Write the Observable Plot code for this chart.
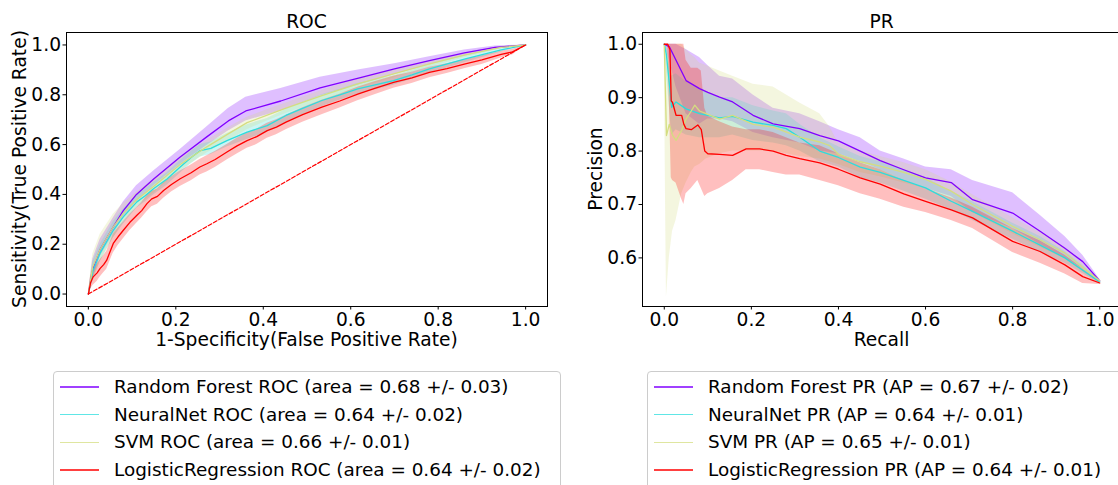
<!DOCTYPE html>
<html>
<head>
<meta charset="utf-8">
<script src="https://cdn.jsdelivr.net/npm/d3@7"></script>
<script src="https://cdn.jsdelivr.net/npm/@observablehq/plot@0.6"></script>
<style>
  html, body { margin: 0; padding: 0; background: #fff; }
  #root { position: relative; width: 1118px; height: 485px; overflow: hidden; background: #fff;
          font-family: "DejaVu Sans", sans-serif; color: #000; }
  .abs { position: absolute; white-space: nowrap; line-height: 1; font-size: 18.67px; }
  .ttl { transform: translateX(-50%); }
  .ylab { transform: translate(-50%, -50%) rotate(-90deg); }
  .legend { position: absolute; border: 1px solid #cccccc; border-radius: 4px; background: rgba(255,255,255,0.8); box-sizing: border-box; }
  .row { position: absolute; left: 0; height: 0; }
  .sw { position: absolute; left: 6px; width: 39px; height: 1.6px; }
  .lt { position: absolute; left: 60px; font-size: 18.4px; line-height: 1; white-space: nowrap; transform: translateY(-50%); }
</style>
</head>
<body>
<div id="root"></div>
<script>
// ---------------- data ----------------
const modelNames = ["Random Forest", "NeuralNet", "SVM", "LogisticRegression"];
const rocAreaText = ["0.68 +/- 0.03", "0.64 +/- 0.02", "0.66 +/- 0.01", "0.64 +/- 0.02"];
const prApText = ["0.67 +/- 0.02", "0.64 +/- 0.01", "0.65 +/- 0.01", "0.64 +/- 0.01"];
const xTicks = [0, 0.2, 0.4, 0.6, 0.8, 1.0];
const rocYTicks = [0, 0.2, 0.4, 0.6, 0.8, 1.0];
const prYTicks = [0.6, 0.7, 0.8, 0.9, 1.0];
const chanceLine = [[0, 0], [1, 1]];

// [fpr, mean tpr, mean - std, mean + std]
const rocRF = [
  [0,0,0,0],[0.01,0.10,0.06,0.14],[0.027,0.18,0.15,0.22],[0.057,0.27,0.24,0.305],
  [0.08,0.335,0.305,0.37],[0.11,0.40,0.37,0.435],[0.15,0.463,0.435,0.495],[0.21,0.55,0.52,0.58],
  [0.27,0.63,0.595,0.67],[0.32,0.695,0.655,0.745],[0.36,0.735,0.695,0.79],[0.44,0.775,0.735,0.825],
  [0.53,0.828,0.795,0.87],[0.62,0.868,0.84,0.90],[0.70,0.904,0.88,0.925],[0.78,0.937,0.92,0.953],
  [0.86,0.968,0.955,0.98],[0.93,0.99,0.982,0.996],[1,1,1,1]];
const rocNN = [
  [0,0,0,0],[0.01,0.09,0.05,0.13],[0.027,0.165,0.13,0.2],[0.057,0.256,0.225,0.29],
  [0.08,0.31,0.28,0.34],[0.111,0.37,0.345,0.398],[0.13,0.395,0.37,0.42],[0.149,0.423,0.398,0.448],
  [0.18,0.462,0.437,0.487],[0.21,0.51,0.485,0.535],[0.235,0.548,0.523,0.572],[0.256,0.576,0.55,0.60],
  [0.28,0.585,0.56,0.61],[0.317,0.616,0.59,0.645],[0.363,0.65,0.62,0.68],[0.409,0.676,0.65,0.705],
  [0.452,0.717,0.69,0.742],[0.49,0.745,0.72,0.77],[0.534,0.777,0.752,0.80],[0.575,0.8,0.778,0.822],
  [0.616,0.824,0.802,0.845],[0.698,0.857,0.838,0.876],[0.74,0.88,0.862,0.898],[0.78,0.904,0.886,0.92],
  [0.862,0.944,0.93,0.957],[0.944,0.98,0.972,0.987],[1,1,1,1]];
const rocSVM = [
  [0,0,0,0],[0.01,0.11,0.06,0.16],[0.027,0.18,0.13,0.24],[0.057,0.27,0.225,0.32],
  [0.08,0.325,0.29,0.365],[0.111,0.38,0.35,0.41],[0.149,0.432,0.405,0.46],[0.21,0.52,0.495,0.548],
  [0.27,0.59,0.565,0.615],[0.317,0.64,0.612,0.665],[0.363,0.688,0.66,0.71],[0.409,0.718,0.695,0.74],
  [0.452,0.746,0.725,0.767],[0.534,0.797,0.777,0.817],[0.616,0.844,0.825,0.862],[0.698,0.884,0.867,0.9],
  [0.78,0.924,0.91,0.937],[0.862,0.96,0.95,0.969],[0.944,0.99,0.985,0.994],[1,1,1,1]];
const rocLR = [
  [0,0,0,0],[0.005,0.045,0.02,0.07],[0.011,0.069,0.035,0.1],[0.02,0.085,0.05,0.12],
  [0.027,0.103,0.068,0.138],[0.035,0.118,0.085,0.155],[0.042,0.136,0.1,0.172],[0.05,0.172,0.135,0.208],
  [0.057,0.203,0.165,0.24],[0.068,0.23,0.195,0.265],[0.08,0.256,0.222,0.29],[0.095,0.288,0.255,0.32],
  [0.111,0.316,0.285,0.348],[0.122,0.335,0.305,0.368],[0.134,0.363,0.33,0.395],[0.145,0.382,0.35,0.412],
  [0.158,0.392,0.36,0.422],[0.172,0.416,0.385,0.447],[0.19,0.44,0.41,0.47],[0.21,0.463,0.432,0.494],
  [0.235,0.487,0.455,0.518],[0.255,0.51,0.478,0.54],[0.271,0.523,0.49,0.555],[0.29,0.54,0.508,0.572],
  [0.317,0.57,0.538,0.6],[0.34,0.595,0.562,0.625],[0.363,0.616,0.585,0.647],[0.385,0.632,0.6,0.662],
  [0.409,0.656,0.625,0.686],[0.43,0.67,0.64,0.7],[0.452,0.69,0.66,0.718],[0.49,0.72,0.69,0.748],
  [0.534,0.75,0.72,0.778],[0.575,0.775,0.747,0.802],[0.616,0.803,0.776,0.83],[0.655,0.826,0.8,0.852],
  [0.698,0.85,0.826,0.874],[0.74,0.868,0.845,0.89],[0.78,0.89,0.868,0.91],[0.82,0.905,0.885,0.925],
  [0.862,0.924,0.905,0.942],[0.9,0.94,0.922,0.957],[0.944,0.962,0.948,0.975],[0.97,0.972,0.96,0.983],
  [1,1,1,1]];

// [recall, mean precision, mean - std, mean + std]
const prRF = [
  [0,1,1,1],[0.012,0.995,0.97,1.0],[0.027,0.97,0.92,1.0],[0.05,0.932,0.87,0.99],
  [0.081,0.917,0.85,0.975],[0.1,0.91,0.86,0.96],[0.127,0.901,0.86,0.94],[0.157,0.892,0.855,0.935],
  [0.204,0.867,0.835,0.905],[0.25,0.851,0.825,0.88],[0.311,0.842,0.815,0.87],[0.357,0.829,0.80,0.855],
  [0.4,0.819,0.795,0.84],[0.45,0.80,0.78,0.825],[0.496,0.782,0.765,0.80],[0.55,0.765,0.745,0.785],
  [0.6,0.75,0.73,0.77],[0.659,0.741,0.715,0.765],[0.708,0.709,0.685,0.745],[0.8,0.684,0.655,0.722],
  [0.863,0.65,0.625,0.68],[0.92,0.618,0.60,0.64],[0.961,0.593,0.58,0.605],[1,0.557,0.555,0.56]];
const prNN = [
  [0,1,1,1],[0.005,0.98,0.95,1],[0.017,0.882,0.83,0.94],[0.027,0.892,0.84,0.945],
  [0.05,0.879,0.83,0.93],[0.081,0.87,0.825,0.915],[0.127,0.862,0.825,0.90],[0.157,0.865,0.83,0.9],
  [0.204,0.854,0.82,0.885],[0.25,0.848,0.815,0.875],[0.28,0.842,0.81,0.87],[0.311,0.826,0.80,0.85],
  [0.357,0.80,0.78,0.825],[0.4,0.788,0.77,0.808],[0.45,0.77,0.75,0.79],[0.496,0.76,0.74,0.78],
  [0.55,0.745,0.725,0.765],[0.6,0.731,0.71,0.75],[0.659,0.706,0.69,0.725],[0.708,0.687,0.67,0.705],
  [0.8,0.65,0.635,0.665],[0.863,0.624,0.61,0.64],[0.92,0.60,0.59,0.612],[1,0.555,0.552,0.56]];
const prSVM = [
  [0,1,1,1],[0.003,0.90,0.7,1],[0.005,0.829,0.527,1],[0.0115,0.85,0.60,1],
  [0.019,0.83,0.65,1],[0.027,0.82,0.67,1],[0.04,0.839,0.72,1],[0.05,0.86,0.74,0.99],
  [0.062,0.875,0.76,0.98],[0.07,0.886,0.77,0.975],[0.081,0.875,0.775,0.965],[0.096,0.87,0.785,0.96],
  [0.127,0.86,0.795,0.95],[0.157,0.867,0.80,0.94],[0.204,0.85,0.80,0.925],[0.25,0.845,0.80,0.92],
  [0.311,0.826,0.79,0.89],[0.357,0.817,0.785,0.87],[0.38,0.81,0.78,0.845],[0.4,0.794,0.775,0.815],
  [0.45,0.78,0.76,0.80],[0.496,0.772,0.752,0.79],[0.55,0.76,0.74,0.778],[0.6,0.747,0.73,0.765],
  [0.659,0.725,0.71,0.742],[0.708,0.70,0.685,0.718],[0.8,0.659,0.645,0.675],[0.863,0.634,0.62,0.648],
  [0.92,0.609,0.598,0.62],[1,0.557,0.553,0.56]];
const prLR = [
  [0,1,1,1],[0.008,1.0,1.0,1.0],[0.013,0.99,0.85,1],[0.016,0.894,0.75,1],
  [0.019,0.891,0.745,1],[0.027,0.867,0.74,1],[0.04,0.867,0.71,1],[0.045,0.85,0.70,1],
  [0.05,0.842,0.72,0.97],[0.062,0.84,0.73,0.955],[0.077,0.849,0.745,0.955],[0.085,0.84,0.73,0.95],
  [0.093,0.80,0.715,0.88],[0.1,0.795,0.72,0.865],[0.127,0.794,0.73,0.855],[0.157,0.792,0.745,0.845],
  [0.188,0.804,0.765,0.84],[0.219,0.804,0.765,0.84],[0.25,0.80,0.76,0.835],[0.28,0.792,0.755,0.825],
  [0.311,0.786,0.755,0.815],[0.357,0.778,0.745,0.81],[0.4,0.766,0.735,0.795],[0.45,0.75,0.72,0.778],
  [0.496,0.738,0.71,0.765],[0.55,0.72,0.695,0.745],[0.6,0.706,0.685,0.73],[0.659,0.69,0.67,0.712],
  [0.708,0.675,0.655,0.695],[0.8,0.631,0.61,0.655],[0.863,0.612,0.59,0.632],[0.92,0.587,0.57,0.605],
  [0.961,0.565,0.552,0.58],[1,0.553,0.55,0.556]];

// ---------------- style ----------------
const colors = ["#8000ff", "#2bdddd", "#d4dd80", "#ff0000"];
const FONT = "DejaVu Sans";
const FS = "18.67px";

const root = document.getElementById("root");

function panel(seriesList, yDomain, yTicks, width, marginRight) {
  const marks = [];
  seriesList.forEach((data, i) => {
    marks.push(Plot.areaY(data, {x: d => d[0], y1: d => d[2], y2: d => d[3], fill: colors[i], fillOpacity: 0.25}));
  });
  seriesList.forEach((data, i) => {
    marks.push(Plot.line(data, {x: d => d[0], y: d => d[1], stroke: colors[i], strokeWidth: 1.3}));
  });
  return {marks, opts: {
    width, height: 340,
    marginLeft: 66, marginRight, marginTop: 32, marginBottom: 34,
    style: {fontFamily: FONT, fontSize: FS, color: "#000", background: "transparent", overflow: "visible"},
    x: {domain: [-0.05, 1.05], ticks: xTicks, tickFormat: d3.format(".1f"), tickSize: 3.5, tickPadding: 2.5, label: null},
    y: {domain: yDomain, ticks: yTicks, tickFormat: d3.format(".1f"), tickSize: 3.5, tickPadding: 2, label: null}
  }};
}

// ROC panel
const roc = panel([rocRF, rocNN, rocSVM, rocLR], [-0.05, 1.05], rocYTicks, 560, 13);
roc.marks.push(Plot.line(chanceLine, {x: d => d[0], y: d => d[1], stroke: "#ff0000", strokeWidth: 1.2, strokeDasharray: "4,2"}));
roc.marks.push(Plot.frame({stroke: "#000", strokeWidth: 1}));
const rocSvg = Plot.plot({...roc.opts, marks: roc.marks});
rocSvg.style.position = "absolute"; rocSvg.style.left = "0px"; rocSvg.style.top = "0px";
root.appendChild(rocSvg);

// PR panel
const pr = panel([prRF, prNN, prSVM, prLR], [0.509, 1.022], prYTicks, 548, 3);
pr.marks.push(Plot.frame({stroke: "#000", strokeWidth: 1}));
const prSvg = Plot.plot({...pr.opts, marks: pr.marks});
prSvg.style.position = "absolute"; prSvg.style.left = "576px"; prSvg.style.top = "0px";
root.appendChild(prSvg);

// ---------------- text ----------------
function addText(txt, cls, left, top) {
  const d = document.createElement("div");
  d.className = "abs " + cls;
  d.textContent = txt;
  d.style.left = left + "px";
  d.style.top = top + "px";
  root.appendChild(d);
}
addText("ROC", "ttl", 306.5, 12.5);
addText("PR", "ttl", 881.5, 12.5);
addText("1-Specificity(False Positive Rate)", "ttl", 306.5, 330.5);
addText("Recall", "ttl", 881.5, 330.5);
addText("Sensitivity(True Positive Rate)", "ylab", 19.5, 169);
addText("Precision", "ylab", 595.5, 169);

// ---------------- legends ----------------
function legend(left, width, labels) {
  const box = document.createElement("div");
  box.className = "legend";
  box.style.left = left + "px";
  box.style.top = "371px";
  box.style.width = width + "px";
  box.style.height = "140px";
  labels.forEach((lab, i) => {
    const row = document.createElement("div");
    row.className = "row";
    row.style.top = (15 + i * 27.7) + "px";
    const sw = document.createElement("div");
    sw.className = "sw";
    sw.style.background = colors[i];
    sw.style.opacity = "0.75";
    sw.style.top = "-0.8px";
    const t = document.createElement("div");
    t.className = "lt";
    t.textContent = lab;
    row.appendChild(sw);
    row.appendChild(t);
    box.appendChild(row);
  });
  root.appendChild(box);
}
legend(53, 508, modelNames.map((n, i) => `${n} ROC (area = ${rocAreaText[i]})`));
legend(647, 520, modelNames.map((n, i) => `${n} PR (AP = ${prApText[i]})`));
</script>
</body>
</html>
